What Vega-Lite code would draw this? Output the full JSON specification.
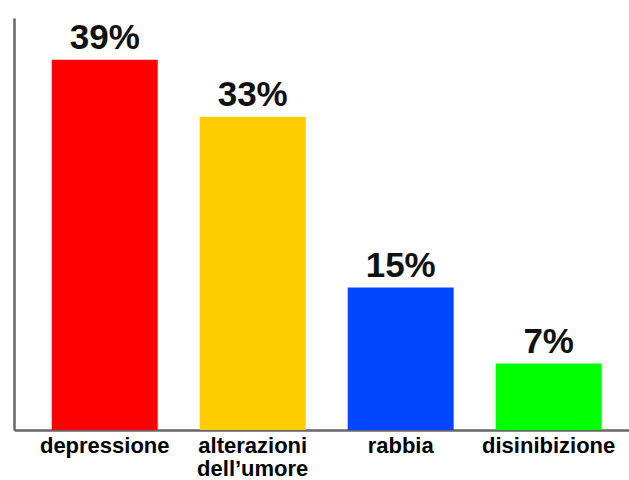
{
  "$schema": "https://vega.github.io/schema/vega-lite/v6.json",
  "autosize": "none",
  "width": 615,
  "height": 412,
  "padding": {"left": 14, "top": 18, "right": 0, "bottom": 50},
  "background": "white",
  "data": {
    "values": [
      {"categoria": "depressione", "valore": 39, "etichetta": "39%", "colore": "#ff0000"},
      {"categoria": "alterazioni dell’umore", "valore": 33, "etichetta": "33%", "colore": "#ffcc00"},
      {"categoria": "rabbia", "valore": 15, "etichetta": "15%", "colore": "#0046ff"},
      {"categoria": "disinibizione", "valore": 7, "etichetta": "7%", "colore": "#00ff00"}
    ]
  },
  "config": {"view": {"stroke": null}},
  "encoding": {
    "x": {
      "field": "categoria",
      "type": "nominal",
      "sort": null,
      "scale": {"paddingInner": 0.284, "paddingOuter": 0.22, "align": 0.58},
      "axis": {
        "title": null,
        "labelAngle": 0,
        "ticks": false,
        "domainColor": "#666666",
        "domainWidth": 2.5,
        "labelFont": "Liberation Sans",
        "labelFontWeight": "bold",
        "labelFontSize": 22,
        "labelColor": "#000000",
        "labelPadding": 5,
        "labelLineHeight": 23,
        "labelExpr": "split(datum.label, ' ')"
      }
    },
    "y": {
      "field": "valore",
      "type": "quantitative",
      "scale": {"domain": [0, 43.4], "nice": false},
      "axis": {
        "title": null,
        "labels": false,
        "ticks": false,
        "grid": false,
        "domainColor": "#666666",
        "domainWidth": 2.5
      }
    }
  },
  "layer": [
    {
      "mark": {"type": "bar"},
      "encoding": {
        "color": {"field": "colore", "type": "nominal", "scale": null, "legend": null}
      }
    },
    {
      "mark": {
        "type": "text",
        "baseline": "alphabetic",
        "dy": -11,
        "font": "Liberation Sans",
        "fontWeight": "bold",
        "fontSize": 35,
        "color": "#111111"
      },
      "encoding": {
        "text": {"field": "etichetta"}
      }
    }
  ]
}
